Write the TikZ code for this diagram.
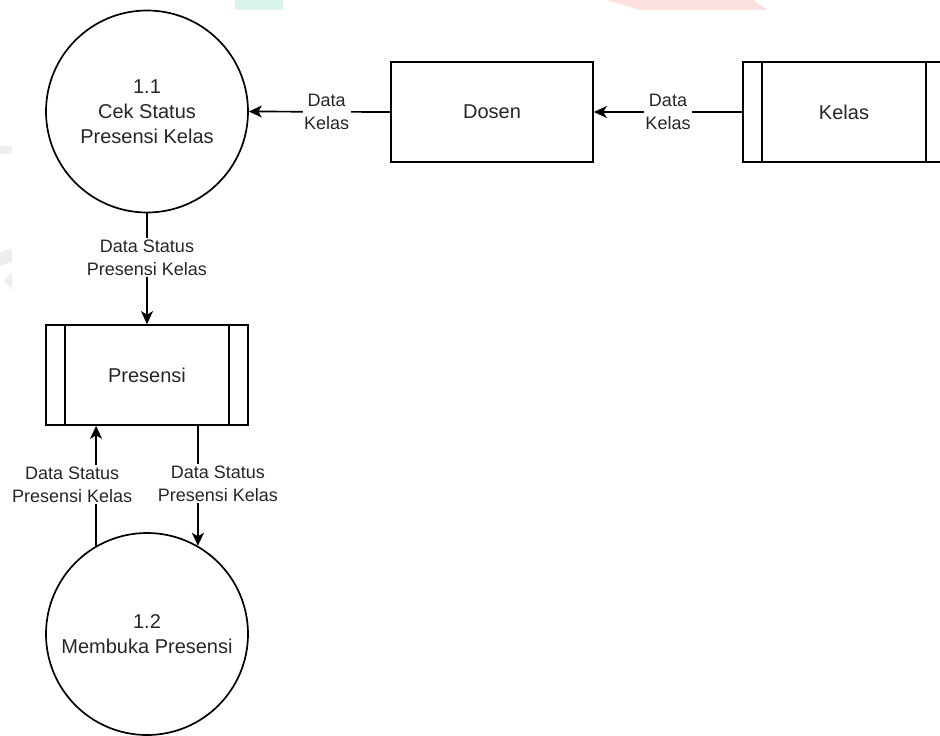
\documentclass[tikz,border=0pt]{standalone}
\usepackage{fontspec}
\setmainfont{Liberation Sans}
\usetikzlibrary{arrows.meta,calc}

\definecolor{ink}{HTML}{262626}
\definecolor{wmgreen}{HTML}{D9F4EB}
\definecolor{wmpink}{HTML}{FCE0E0}
\definecolor{wmgray}{HTML}{EEEEEE}

\tikzset{
  every node/.style={text=ink},
  process/.style={circle, draw=black, line width=1.7pt, minimum size=202pt,
    inner sep=0pt, align=center, font=\fontsize{20}{25}\selectfont},
  entity/.style={rectangle, draw=black, line width=1.7pt, minimum width=202pt,
    minimum height=100pt, inner sep=0pt, align=center,
    font=\fontsize{20}{24}\selectfont},
  storeline/.style={line width=1.7pt},
  flow/.style={line width=1.7pt, draw=black,
    -{Stealth[length=13pt,width=12pt,inset=3.5pt]}},
  lbl/.style={fill=white, inner sep=1.5pt, align=center,
    font=\fontsize{18}{23}\selectfont},
}

\begin{document}
\begin{tikzpicture}[x=1pt,y=-1pt]
  \useasboundingbox (0,0) rectangle (940,736);
  \clip (0,0) rectangle (940,736);
  \fill[white] (0,0) rectangle (940,736);

  % faint background marks
  \fill[wmgreen] (235,0) rectangle (283,10);
  \fill[wmpink] (607,0) -- (753,0) -- (767,10) -- (640,10) -- cycle;
  \fill[wmgray] (0,146) rectangle (12,154);
  \fill[wmgray] (0,252) -- (12,248) -- (12,262) -- (0,266) -- cycle;
  \fill[wmgray] (4,280) -- (12,272) -- (12,290) -- cycle;

  % processes
  \node[process] (c11) at (147,111.5) {1.1\\Cek Status\\Presensi Kelas};
  \node[process] (c12) at (147,634) {1.2\\Membuka Presensi};

  % external entity
  \node[entity] (dosen) at (492,112) {Dosen};

  % data stores
  \node[entity] (kelas) at (844,112) {Kelas};
  \draw[storeline] ([xshift=20pt]kelas.north west) -- ([xshift=20pt]kelas.south west);
  \draw[storeline] ([xshift=-20pt]kelas.north east) -- ([xshift=-20pt]kelas.south east);

  \node[entity] (pres) at (147,375) {Presensi};
  \draw[storeline] ([xshift=20pt]pres.north west) -- ([xshift=20pt]pres.south west);
  \draw[storeline] ([xshift=-20pt]pres.north east) -- ([xshift=-20pt]pres.south east);

  % data flows
  \draw[flow] (kelas.west) -- node[lbl] {Data\\Kelas} (dosen.east);
  \draw[flow] (dosen.west) -- node[lbl, pos=0.45] {Data\\Kelas} (c11.east);
  \draw[flow] (c11.south) -- node[lbl, pos=0.4] {Data Status\\Presensi Kelas} (pres.north);
  \draw[flow] (c12.120) -- node[lbl, pos=0.51, xshift=-24pt] {Data Status\\Presensi Kelas} (c12.120 |- pres.south);
  \draw[flow] (pres.south -| c12.60) -- node[lbl, pos=0.48, xshift=20pt] {Data Status\\Presensi Kelas} (c12.60);
\end{tikzpicture}
\end{document}
